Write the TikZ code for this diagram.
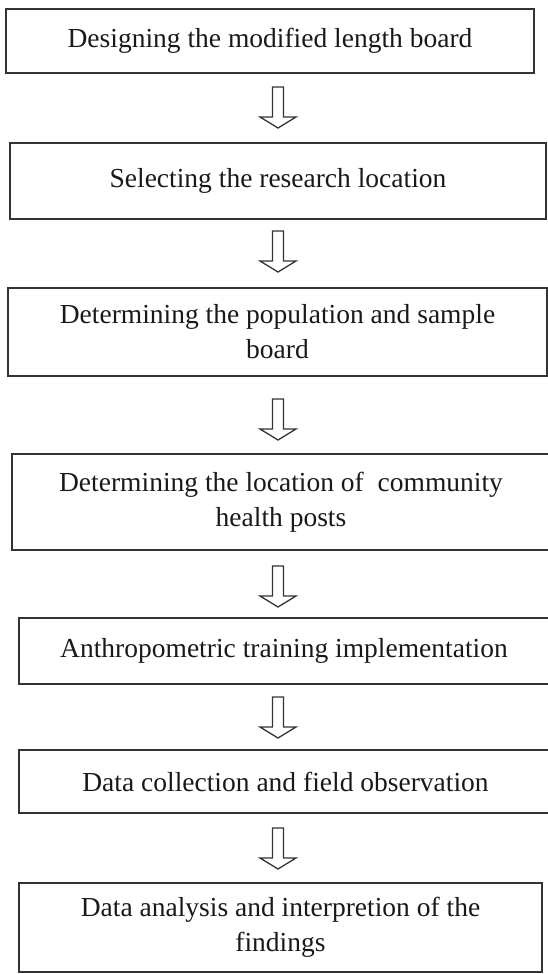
\documentclass[tikz,border=0pt]{standalone}
\usepackage{fontspec}
\setmainfont{Liberation Serif}
\begin{document}
\begin{tikzpicture}[x=1pt,y=-1pt,
  box/.style={draw=black!80, line width=1.8pt, rectangle, inner sep=0pt,
    align=center, text=black!90, font=\fontsize{27.5}{35}\selectfont},
  blockarrow/.pic={\draw[line width=1.3pt, draw=black!80, line join=miter]
    (-5.5,0) -- (5.5,0) -- (5.5,30) -- (18,30) -- (0,41) -- (-18,30) -- (-5.5,30) -- cycle;}
]
\useasboundingbox (0,0) rectangle (548,974);
\node[box, minimum width=528pt, minimum height=64pt] (b1) at (270,41)
  {Designing the modified length board};
\node[box, minimum width=536pt, minimum height=76pt] (b2) at (278,181)
  {Selecting the research location};
\node[box, minimum width=539pt, minimum height=88pt] (b3) at (277.5,332)
  {Determining the population and sample\\board};
\node[box, minimum width=538pt, minimum height=96pt] (b4) at (281,502)
  {Determining the location of\ \ community\\health posts};
\node[box, minimum width=530pt, minimum height=66pt] (b5) at (284,651)
  {Anthropometric training implementation};
\node[box, minimum width=533pt, minimum height=63pt] (b6) at (285.5,781.5)
  {Data collection and field observation};
\node[box, minimum width=523pt, minimum height=89pt] (b7) at (280.5,927.5)
  {Data analysis and interpretion of the\\findings};
\coordinate (a1) at (278,87);
\coordinate (a2) at (278,231);
\coordinate (a3) at (278,399);
\coordinate (a4) at (278,566);
\coordinate (a5) at (278,697);
\coordinate (a6) at (278,828);
\foreach \a in {a1,a2,a3,a4,a5,a6} { \pic at (\a) {blockarrow}; }
\end{tikzpicture}
\end{document}
